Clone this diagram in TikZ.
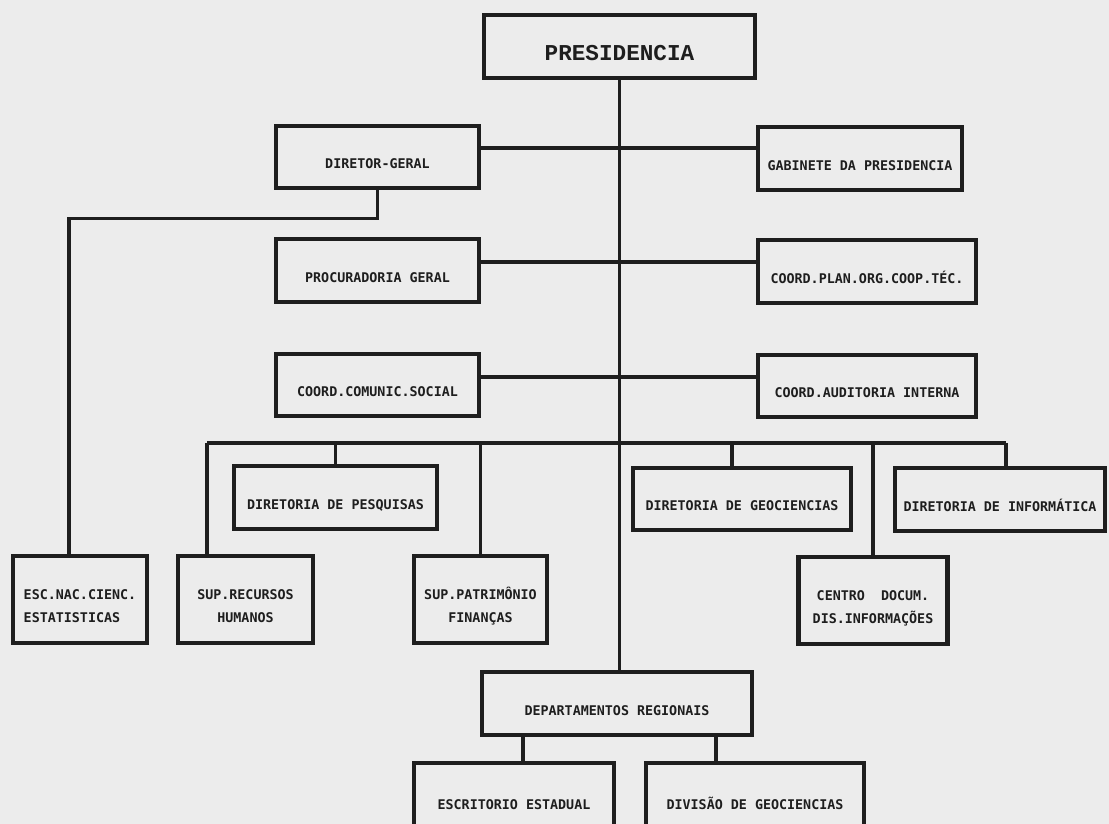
\documentclass[tikz,border=0pt]{standalone}
\usepackage{fontspec}
\newfontfamily\chartfont{DejaVu Sans Mono}
\newfontfamily\headfont{Liberation Mono}
\usetikzlibrary{positioning, calc}
\definecolor{cpaper}{HTML}{ECECEC}
\definecolor{cink}{HTML}{1E1E1E}
\tikzset{
  box/.style={draw=cink, line width=2.5pt, minimum width=#1, minimum height=1.25cm, inner sep=2pt,
              text=cink, font=\chartfont\bfseries\fontsize{7.6}{13}\selectfont, text height=13.5pt, text depth=0pt},
  box/.default=4.06cm,
  tall/.style={minimum height=1.74cm, text height=26.5pt, text depth=0pt, align=center},
  conn/.style={draw=cink, line width=2pt},
}

\begin{document}
\begin{tikzpicture}[x=0.02cm, y=-0.02cm]
  \useasboundingbox (0,0) rectangle (1109,824);
  \clip (0,0) rectangle (1109,824);
  \fill[cpaper] (0,0) rectangle (1109,824);
  % top
  \node[box=5.42cm, font=\headfont\bfseries\fontsize{12.9}{15}\selectfont, text height=16.5pt] (pres) at (619.5,46.5) {PRESIDENCIA};
  % staff pairs
  \node[box] (dirger) at (377.5,157) {DIRETOR-GERAL};
  \node[box=4.08cm] (gab) at (860,158.5) {GABINETE DA PRESIDENCIA};
  \node[box] (proc) at (377.5,270.5) {PROCURADORIA GERAL};
  \node[box=4.36cm] (plan) at (867,271.5) {COORD.PLAN.ORG.COOP.TÉC.};
  \node[box] (comsoc) at (377.5,385) {COORD.COMUNIC.SOCIAL};
  \node[box=4.36cm] (audit) at (867,386) {COORD.AUDITORIA INTERNA};
  % directorates
  \node[box] (pesq) at (335.5,497.5) {DIRETORIA DE PESQUISAS};
  \node[box=4.36cm] (geoc) at (742,499) {DIRETORIA DE GEOCIENCIAS};
  \node[box=4.2cm] (inf) at (1000,499.5) {DIRETORIA DE INFORMÁTICA};
  \node[box=2.68cm, tall, align=left] (esc) at (80,599.5) {ESC.NAC.CIENC.\\ESTATISTICAS};
  \node[box=2.7cm, tall] (rec) at (245.5,599.5) {SUP.RECURSOS\\HUMANOS};
  \node[box=2.66cm, tall] (patr) at (480.5,599.5) {SUP.PATRIMÔNIO\\FINANÇAS};
  \node[box=2.98cm, tall] (centro) at (873,600.5) {CENTRO\ \ DOCUM.\\DIS.INFORMAÇÕES};
  % regional
  \node[box=5.4cm] (dept) at (617,703.5) {DEPARTAMENTOS REGIONAIS};
  \node[box=4cm, minimum height=1.4cm] (escr) at (514,798) {ESCRITORIO ESTADUAL};
  \node[box=4.36cm, minimum height=1.4cm] (div) at (755,798) {DIVISÃO DE GEOCIENCIAS};

  % trunk and side branches
  \draw[conn] (pres.south) -- (pres.south |- dept.north);
  \draw[conn] ([yshift=1.8mm]dirger.east) -- ([yshift=1.8mm]dirger.east -| gab.west);
  \draw[conn] ([yshift=1.7mm]proc.east) -- ([yshift=1.7mm]proc.east -| plan.west);
  \draw[conn] ([yshift=1.6mm]comsoc.east) -- ([yshift=1.6mm]comsoc.east -| audit.west);
  \draw[conn] (dirger.south) -- ++(0,28) -| ([xshift=-2.2mm]esc.north);
  % bus
  \coordinate (busL) at (207,443);
  \coordinate (busR) at (1006,443);
  \coordinate (geoctop) at ([xshift=-2mm]geoc.north);
  \draw[conn] (busL) -- (busR);
  \draw[conn] (busL) -- (busL |- rec.north);
  \draw[conn] (busR) -- (busR |- inf.north);
  \foreach \n in {pesq, patr, centro, geoctop} \draw[conn] (\n.north) -- (\n.north |- busL);
  % regional offices
  \coordinate (divtop) at ([xshift=-7.8mm]div.north);
  \draw[conn] ([xshift=1.8mm]escr.north) -- ([xshift=1.8mm]escr.north |- dept.south);
  \draw[conn] (divtop) -- (divtop |- dept.south);
\end{tikzpicture}
\end{document}
